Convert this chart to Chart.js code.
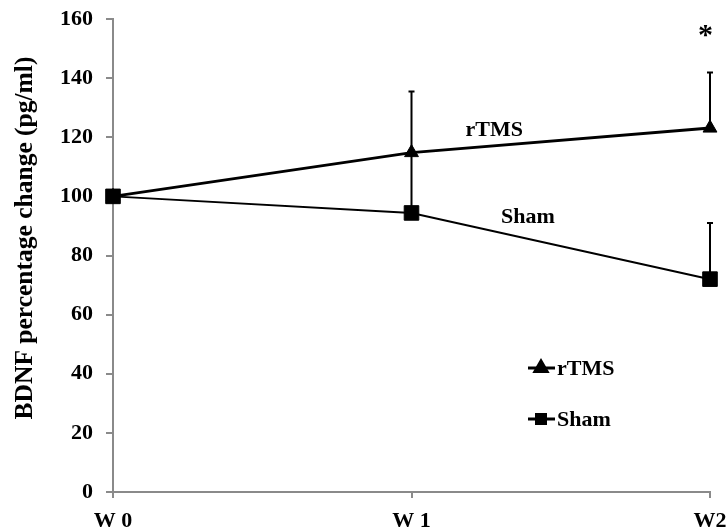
<!DOCTYPE html>
<html><head><meta charset="utf-8">
<script src="https://cdn.jsdelivr.net/npm/chart.js@4/dist/chart.umd.min.js"></script>
<style>html,body{margin:0;padding:0;background:#fff;}#wrap{width:726px;height:531px;}</style>
</head><body><div id="wrap"><canvas id="c" width="726" height="531"></canvas></div>
<script>
// ---- data ----
const categories = ['W 0', 'W 1', 'W2'];
const seriesNames = ['rTMS', 'Sham'];
const rtmsMean = [100, 114.8, 123.1];
const rtmsErr  = [0, 20.7, 18.8];
const shamMean = [100, 94.4, 72.0];
const shamErr  = [0, 20.4, 19.0];
const yTickStep = 20;
const yMin = 0, yMax = 160;
const yTitle = 'BDNF percentage change (pg/ml)';
const sigMark = '*';

const FONT = 'Liberation Serif';
const AXIS_GRAY = '#8a8a8a';

const errorBars = {
  id: 'errorBars',
  beforeDatasetsDraw(chart) {
    const ctx = chart.ctx, x = chart.scales.x, y = chart.scales.y;
    ctx.save();
    ctx.strokeStyle = '#000';
    ctx.lineWidth = 2;
    chart.data.datasets.forEach(ds => {
      ds.data.forEach((v, i) => {
        const e = ds.errors[i];
        if (!e) return;
        const px = x.getPixelForValue(i);
        const y0 = y.getPixelForValue(v);
        const y1 = y.getPixelForValue(v + e);
        ctx.beginPath();
        ctx.moveTo(px, y0); ctx.lineTo(px, y1);
        ctx.moveTo(px - 3, y1); ctx.lineTo(px + 3, y1);
        ctx.stroke();
      });
    });
    ctx.restore();
  }
};

const annotations = {
  id: 'annotations',
  afterDraw(chart) {
    const ctx = chart.ctx, x = chart.scales.x, y = chart.scales.y;
    ctx.save();
    ctx.fillStyle = '#000';
    // y-axis title
    ctx.save();
    ctx.translate(25, 238);
    ctx.rotate(-Math.PI / 2);
    ctx.font = 'bold 25.5px "' + FONT + '"';
    ctx.textAlign = 'center';
    ctx.textBaseline = 'middle';
    ctx.fillText(yTitle, 0, 0);
    ctx.restore();

    ctx.font = 'bold 22px "' + FONT + '"';
    ctx.textBaseline = 'middle';
    ctx.textAlign = 'center';
    // inline series labels
    ctx.fillText(seriesNames[0], x.getPixelForValue(1.277), y.getPixelForValue(122.2));
    ctx.fillText(seriesNames[1], x.getPixelForValue(1.39), y.getPixelForValue(93.0));
    // significance mark
    ctx.font = 'bold 30px "' + FONT + '"';
    ctx.fillText(sigMark, x.getPixelForValue(1.985), y.getPixelForValue(154.2));
    // legend
    const lx0 = 528, lx1 = 555, mx = 541;
    const rows = [{y: 368, ds: chart.data.datasets[0]}, {y: 419, ds: chart.data.datasets[1]}];
    rows.forEach((r, k) => {
      ctx.strokeStyle = '#000';
      ctx.lineWidth = 3;
      ctx.beginPath(); ctx.moveTo(lx0, r.y); ctx.lineTo(lx1, r.y); ctx.stroke();
      if (k === 0) {
        Chart.helpers.drawPoint(ctx, {pointStyle: 'triangle', radius: 7, borderWidth: 1}, mx, r.y);
        ctx.fill();
      } else {
        ctx.fillRect(mx - 6, r.y - 6, 12, 12);
      }
      ctx.font = 'bold 22px "' + FONT + '"';
      ctx.textAlign = 'left';
      ctx.fillText(r.ds.label, 557, r.y + 1);
    });
    ctx.restore();
  }
};

const tickFont = {family: FONT, weight: 'bold', size: 22};

new Chart(document.getElementById('c'), {
  type: 'line',
  data: {
    labels: categories,
    datasets: [
      {label: seriesNames[0], data: rtmsMean, errors: rtmsErr, borderColor: '#000', backgroundColor: '#000',
       borderWidth: 3, pointStyle: 'triangle', pointRadius: 8, pointBorderWidth: 1, tension: 0, order: 1},
      {label: seriesNames[1], data: shamMean, errors: shamErr, borderColor: '#000', backgroundColor: '#000',
       borderWidth: 2, pointStyle: 'rect', pointRadius: 10.3, pointBorderWidth: 1, tension: 0, order: 0}
    ]
  },
  options: {
    responsive: false, animation: false, devicePixelRatio: 1,
    layout: {padding: {left: 0, top: 19, right: 16, bottom: 0}},
    plugins: {legend: {display: false}, tooltip: {enabled: false}},
    scales: {
      x: {
        type: 'category', offset: false,
        grid: {display: true, drawOnChartArea: false, drawTicks: true, tickLength: 6, color: AXIS_GRAY, lineWidth: 2},
        border: {display: true, color: AXIS_GRAY, width: 2},
        ticks: {font: tickFont, color: '#000', padding: 10, maxRotation: 0, autoSkip: false},
        afterFit(s) { s.height = 39; s.paddingLeft = 0; s.paddingRight = 0; }
      },
      y: {
        min: yMin, max: yMax,
        grid: {display: true, drawOnChartArea: false, drawTicks: true, tickLength: 7, color: AXIS_GRAY, lineWidth: 2},
        border: {display: true, color: AXIS_GRAY, width: 2},
        ticks: {stepSize: yTickStep, font: tickFont, color: '#000', padding: 13},
        title: {display: false},
        afterFit(s) { s.width = 113; s.paddingTop = 0; s.paddingBottom = 0; }
      }
    }
  },
  plugins: [errorBars, annotations]
});
</script>
</body></html>
